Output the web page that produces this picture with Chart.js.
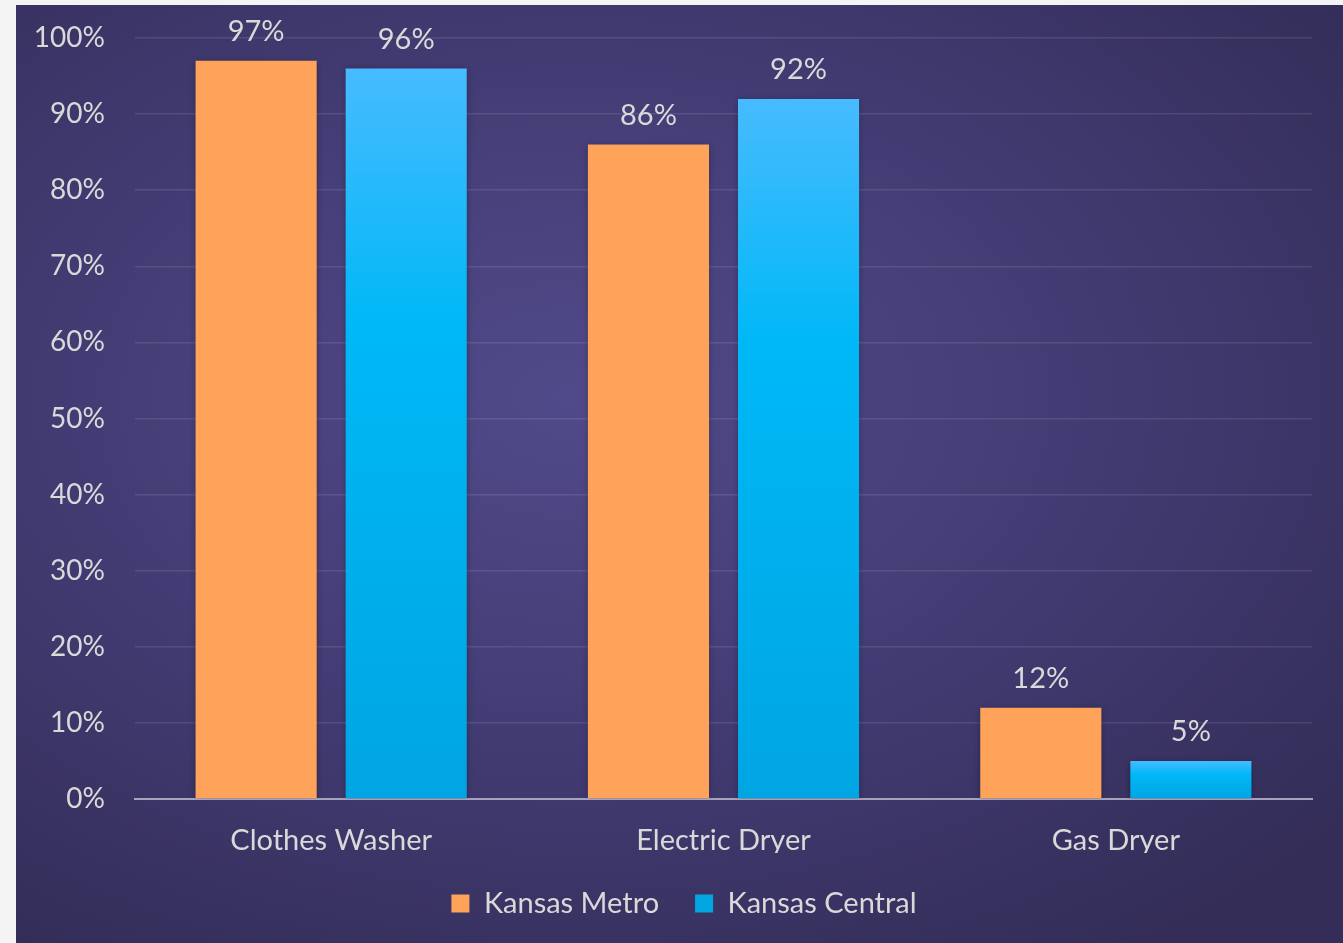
<!DOCTYPE html>
<html>
<head>
<meta charset="utf-8">
<script src="https://cdn.jsdelivr.net/npm/chart.js@4/dist/chart.umd.min.js"></script>
<style>
  html, body { margin: 0; padding: 0; background: #f4f4f4; }
  #panel {
    position: absolute; left: 16px; top: 5px; width: 1327px; height: 938px;
    background: radial-gradient(ellipse 75% 70% at 42% 42%, #514a8a 0%, #433c74 50%, #332d58 100%);
  }
</style>
</head>
<body>
<div id="panel"><canvas id="myChart" width="1327" height="938"></canvas></div>
<script>
// chart data
const categories = ['Clothes Washer', 'Electric Dryer', 'Gas Dryer'];
const kansasMetro = [97, 86, 12];
const kansasCentral = [96, 92, 5];
const yTicks = [0, 10, 20, 30, 40, 50, 60, 70, 80, 90, 100];

const textColor = '#d9d9d9';
const fontFamily = 'Lato, "Open Sans", sans-serif';

// blue bars get their own vertical gradient, light on top
const blueGradient = (context) => {
    const chart = context.chart;
    const { ctx, chartArea, scales } = chart;
    if (!chartArea || context.type !== 'data') return '#00b4f5';
    const top = scales.y.getPixelForValue(context.raw);
    const bottom = scales.y.getPixelForValue(0);
    const g = ctx.createLinearGradient(0, top, 0, bottom);
    g.addColorStop(0, '#47bbff');
    g.addColorStop(0.35, '#00b8f7');
    g.addColorStop(1, '#00a5e2');
    return g;
};

// percentage labels above each bar
const valueLabels = {
    id: 'valueLabels',
    afterDatasetsDraw(chart) {
        const ctx = chart.ctx;
        ctx.save();
        ctx.font = '29px ' + fontFamily;
        ctx.fillStyle = textColor;
        ctx.textAlign = 'center';
        ctx.textBaseline = 'middle';
        chart.data.datasets.forEach((ds, i) => {
            chart.getDatasetMeta(i).data.forEach((bar, j) => {
                ctx.fillText(ds.data[j] + '%', bar.x, bar.y - 29);
            });
        });
        ctx.restore();
    }
};

// soft shadow behind the bars
const barShadow = {
    id: 'barShadow',
    beforeDatasetsDraw(chart) {
        const ctx = chart.ctx;
        ctx.save();
        ctx.shadowColor = 'rgba(0, 0, 0, 0.3)';
        ctx.shadowBlur = 6;
        ctx.shadowOffsetX = 0;
        ctx.shadowOffsetY = 1;
    },
    afterDatasetsDraw(chart) {
        chart.ctx.restore();
    }
};

// the legend sits a little right of the canvas centre
const legendShift = {
    id: 'legendShift',
    afterLayout(chart) {
        chart.legend.left += 20;
        chart.legend.right += 20;
    }
};

Chart.defaults.font.family = fontFamily;
Chart.defaults.color = textColor;

new Chart(document.getElementById('myChart'), {
    type: 'bar',
    data: {
        labels: categories,
        datasets: [
            {
                label: 'Kansas Metro',
                data: kansasMetro,
                backgroundColor: '#ffa35a',
            },
            {
                label: 'Kansas Central',
                data: kansasCentral,
                backgroundColor: blueGradient,
            }
        ]
    },
    options: {
        responsive: false,
        animation: false,
        categoryPercentage: 0.765,
        barPercentage: 0.807,
        layout: { padding: { top: 33, right: 31, bottom: 15, left: 0 } },
        scales: {
            x: {
                grid: { display: false },
                border: { display: true, color: '#a7a3bd', width: 2 },
                ticks: { font: { size: 29 }, color: textColor, padding: 16 },
                afterFit: (scale) => {
                    scale.height = 54;
                    scale.paddingLeft = 0;
                    scale.paddingRight = 0;
                }
            },
            y: {
                min: 0,
                max: 100,
                afterBuildTicks: (scale) => { scale.ticks = yTicks.map(v => ({ value: v })); },
                ticks: { font: { size: 28 }, color: textColor, padding: 30, callback: (v) => v + '%' },
                grid: { color: 'rgba(255, 255, 255, 0.1)', lineWidth: 1.5, drawTicks: false },
                border: { display: false },
                afterFit: (scale) => {
                    scale.width = 119;
                    scale.paddingTop = 0;
                    scale.paddingBottom = 0;
                }
            }
        },
        plugins: {
            legend: {
                position: 'bottom',
                labels: { boxWidth: 18, boxHeight: 18, padding: 36, font: { size: 29 }, color: textColor }
            },
            tooltip: { enabled: false }
        }
    },
    plugins: [barShadow, valueLabels, legendShift]
});
</script>
</body>
</html>
